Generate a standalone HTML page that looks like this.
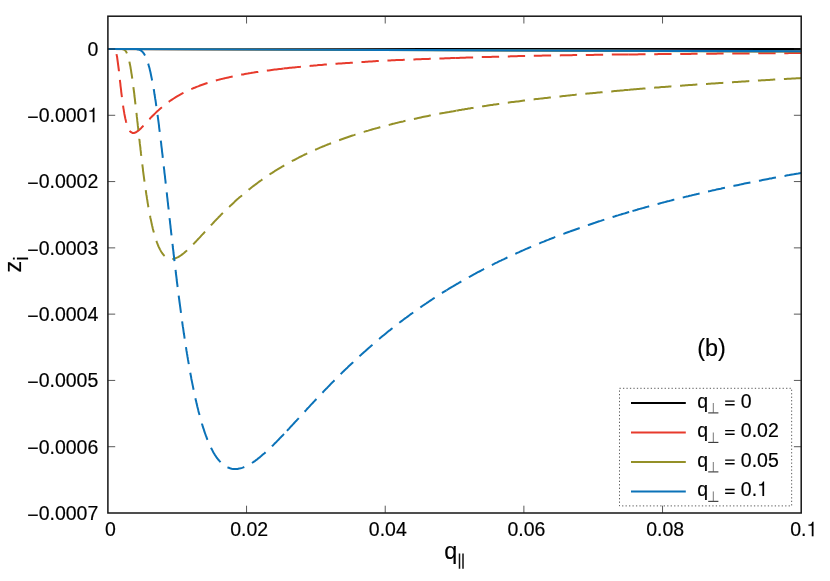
<!DOCTYPE html>
<html><head><meta charset="utf-8"><title>plot</title>
<style>
html,body{margin:0;padding:0;background:#fff;}
svg{display:block;}
text{font-family:"Liberation Sans",sans-serif;fill:#000;stroke:#000;stroke-width:0.18px;}
.gl{fill:#000;stroke:#000;stroke-width:3;}
</style></head>
<body>
<svg width="830" height="581" viewBox="0 0 830 581" style="will-change:transform">
<defs><clipPath id="pc"><rect x="107.9" y="16.2" width="693.30" height="496.80"/></clipPath></defs>
<rect width="830" height="581" fill="#fff"/>
<g fill="none" stroke-width="2.0" stroke-linecap="butt" stroke-linejoin="round" clip-path="url(#pc)">
<path d="M107.90 49.00 L801.20 49.10" stroke="#000" stroke-width="2.15"/>
<path d="M107.90 49.00 L801.20 51.20" stroke="#e73a2c" stroke-width="2.15"/>
<path d="M116.5 54.1 116.8 55.6 117.1 57.0 117.3 58.5 117.5 60.0 117.7 61.5 117.9 63.0 118.1 64.5 118.3 66.0 118.5 67.5 118.7 69.0 118.9 70.5 119.0 72.0 119.2 73.5 119.4 75.1 119.5 76.6 119.7 78.1 119.9 79.6 120.0 81.1 120.2 82.6 120.4 84.1 120.5 85.6 120.7 87.1 120.9 88.6 121.1 90.1 121.2 91.6 121.4 93.1 121.6 94.6 121.8 96.1 122.0 97.6 122.2 99.1 122.4 100.6 122.6 102.1 122.8 103.6 123.0 105.1 123.2 106.6 123.4 108.1 123.7 109.6 123.9 111.1 124.2 112.6 124.4 114.0 124.7 115.5 125.0 117.0 125.3 118.5 125.7 120.0 126.0 121.4 126.4 122.9 126.8 124.4 127.3 125.8 127.8 127.2 128.4 128.6 129.2 129.9 130.0 131.2 131.1 132.2 132.4 132.9 133.9 133.0 135.4 132.5 136.7 131.8 137.9 130.9 139.1 129.9 140.2 128.9 141.3 127.9 142.4 126.8 143.4 125.7 144.4 124.6 145.5 123.5 146.5 122.4 147.5 121.2 148.5 120.1 149.6 119.0 150.6 117.9 151.7 116.8 152.7 115.8 153.8 114.7 154.9 113.6 155.9 112.6 157.0 111.5 158.2 110.5 159.3 109.5 160.4 108.5 161.6 107.5 162.7 106.5 163.9 105.6 165.1 104.6 166.3 103.7 167.5 102.8 168.7 101.9 169.9 101.0 171.2 100.1 172.4 99.3 173.7 98.5 175.0 97.7 176.2 96.9 177.5 96.1 178.9 95.3 180.2 94.6 181.5 93.9 182.8 93.2 184.2 92.5 185.5 91.8 186.9 91.1 188.3 90.5 189.6 89.8 191.0 89.2 192.4 88.6 193.8 88.0 195.2 87.5 196.6 86.9 198.0 86.4 199.4 85.8 200.8 85.3 202.3 84.8 203.7 84.3 205.1 83.8 206.6 83.3 208.0 82.9 209.5 82.4 210.9 82.0 212.4 81.5 213.8 81.1 215.3 80.7 216.7 80.3 218.2 79.9 219.6 79.5 221.1 79.1 222.6 78.8 224.0 78.4 225.5 78.1 227.0 77.7 228.5 77.4 229.9 77.1 231.4 76.7 232.9 76.4 234.4 76.1 235.9 75.8 237.3 75.5 238.8 75.2 240.3 74.9 241.8 74.6 243.3 74.4 244.8 74.1 246.3 73.8 247.8 73.6 249.2 73.3 250.7 73.1 252.2 72.8 253.7 72.6 255.2 72.3 256.7 72.1 258.2 71.9 259.7 71.6 261.2 71.4 262.7 71.2 264.2 71.0 265.7 70.8 267.2 70.6 268.7 70.4 270.2 70.2 271.7 70.0 273.2 69.8 274.7 69.6 276.2 69.4 277.7 69.2 279.2 69.0 280.7 68.9 282.2 68.7 283.7 68.5" stroke="#e73a2c" stroke-dasharray="17.35 8.67"/>
<path d="M283.7 68.5 285.2 68.3 286.7 68.2 288.3 68.0 289.8 67.8 291.3 67.7 292.8 67.5 294.3 67.4 295.8 67.2 297.4 67.1 298.9 66.9 300.4 66.8 301.9 66.6 303.4 66.5 305.0 66.3 306.5 66.2 308.0 66.1 309.5 65.9 311.0 65.8 312.6 65.7 314.1 65.5 315.6 65.4 317.1 65.3 318.6 65.1 320.2 65.0 321.7 64.9 323.2 64.7 324.7 64.6 326.2 64.5 327.8 64.4 329.3 64.3 330.8 64.1 332.3 64.0 333.9 63.9 335.4 63.8 336.9 63.7 338.4 63.6 339.9 63.5 341.5 63.4 343.0 63.3 344.5 63.2 346.0 63.1 347.6 63.0 349.1 62.9 350.6 62.8 352.1 62.7 353.6 62.6 355.2 62.4 356.7 62.3 358.2 62.2 359.7 62.1 361.3 62.0 362.8 62.0 364.3 61.9 365.8 61.8 367.4 61.7 368.9 61.6 370.4 61.5 371.9 61.4 373.5 61.3 375.0 61.2 376.5 61.1 378.0 61.0 379.5 60.9 381.1 60.9 382.6 60.8 384.1 60.7 385.6 60.6 387.2 60.5 388.7 60.5 390.2 60.4 391.7 60.3 393.3 60.3 394.8 60.2 396.3 60.1 397.8 60.1 399.4 60.0 400.9 59.9 402.4 59.9 403.9 59.8 405.5 59.7 407.0 59.7 408.5 59.6 410.0 59.6 411.6 59.5 413.1 59.4 414.6 59.4 416.1 59.3 417.7 59.3 419.2 59.2 420.7 59.2 422.2 59.1 423.8 59.1 425.3 59.0 426.8 58.9 428.3 58.9 429.9 58.8 431.4 58.8 432.9 58.7 434.4 58.7 436.0 58.6 437.5 58.6 439.0 58.5 440.5 58.5 442.1 58.4 443.6 58.4 445.1 58.3 446.6 58.3 448.2 58.2 449.7 58.2 451.2 58.1 452.7 58.1 454.3 58.0 455.8 58.0" stroke="#e73a2c" stroke-dasharray="17.35 8.67"/>
<path d="M455.8 58.0 457.3 57.9 458.9 57.9 460.4 57.8 461.9 57.8 463.4 57.7 465.0 57.7 466.5 57.6 468.0 57.6 469.5 57.5 471.1 57.5 472.6 57.4 474.1 57.4 475.6 57.3 477.2 57.3 478.7 57.2 480.2 57.2 481.7 57.1 483.3 57.1 484.8 57.1 486.3 57.0 487.8 57.0 489.4 56.9 490.9 56.9 492.4 56.8 493.9 56.8 495.5 56.7 497.0 56.7 498.5 56.7 500.0 56.6 501.6 56.6 503.1 56.5 504.6 56.5 506.1 56.4 507.7 56.4 509.2 56.4 510.7 56.3 512.2 56.3 513.8 56.2 515.3 56.2 516.8 56.2 518.3 56.1 519.9 56.1 521.4 56.1 522.9 56.0 524.4 56.0 526.0 56.0 527.5 55.9 529.0 55.9 530.5 55.9 532.1 55.8 533.6 55.8 535.1 55.8 536.6 55.8 538.2 55.7 539.7 55.7 541.2 55.7 542.8 55.6 544.3 55.6 545.8 55.6 547.3 55.6 548.9 55.5 550.4 55.5 551.9 55.5 553.4 55.5 555.0 55.4 556.5 55.4 558.0 55.4 559.5 55.4 561.1 55.3 562.6 55.3 564.1 55.3 565.6 55.3 567.2 55.2 568.7 55.2 570.2 55.2 571.7 55.2 573.3 55.1 574.8 55.1 576.3 55.1 577.8 55.1 579.4 55.1 580.9 55.0 582.4 55.0 583.9 55.0 585.5 55.0 587.0 54.9 588.5 54.9 590.1 54.9 591.6 54.9 593.1 54.9 594.6 54.8 596.2 54.8 597.7 54.8 599.2 54.8 600.7 54.8 602.3 54.7 603.8 54.7 605.3 54.7 606.8 54.7 608.4 54.7 609.9 54.7 611.4 54.6 612.9 54.6 614.5 54.6 616.0 54.6 617.5 54.6 619.0 54.6 620.6 54.5 622.1 54.5 623.6 54.5 625.1 54.5 626.7 54.5 628.2 54.5" stroke="#e73a2c" stroke-dasharray="17.35 8.67"/>
<path d="M628.2 54.5 629.7 54.4 631.2 54.4 632.8 54.4 634.3 54.4 635.8 54.4 637.3 54.4 638.8 54.3 640.3 54.3 641.9 54.3 643.4 54.3 644.9 54.3 646.4 54.3 647.9 54.2 649.4 54.2 651.0 54.2 652.5 54.2 654.0 54.2 655.5 54.2 657.0 54.2 658.6 54.1 660.1 54.1 661.6 54.1 663.1 54.1 664.6 54.1 666.1 54.1 667.7 54.1 669.2 54.0 670.7 54.0 672.2 54.0 673.7 54.0 675.2 54.0 676.8 54.0 678.3 54.0 679.8 54.0 681.3 53.9 682.8 53.9 684.3 53.9 685.9 53.9 687.4 53.9 688.9 53.9 690.4 53.9 691.9 53.8 693.5 53.8 695.0 53.8 696.5 53.8 698.0 53.8 699.5 53.8 701.0 53.8 702.6 53.8 704.1 53.7 705.6 53.7 707.1 53.7 708.6 53.7 710.1 53.7 711.7 53.7 713.2 53.7 714.7 53.7 716.2 53.7 717.7 53.6 719.3 53.6 720.8 53.6 722.3 53.6 723.8 53.6 725.3 53.6 726.8 53.6 728.4 53.6 729.9 53.5 731.4 53.5 732.9 53.5 734.4 53.5 735.9 53.5 737.5 53.5 739.0 53.5 740.5 53.5 742.0 53.5 743.5 53.4 745.1 53.4 746.6 53.4 748.1 53.4 749.6 53.4 751.1 53.4 752.6 53.4 754.2 53.4 755.7 53.4 757.2 53.4 758.7 53.3 760.2 53.3 761.7 53.3 763.3 53.3 764.8 53.3 766.3 53.3 767.8 53.3 769.3 53.3 770.8 53.3 772.4 53.3 773.9 53.2 775.4 53.2 776.9 53.2 778.4 53.2 780.0 53.2 781.5 53.2 783.0 53.2 784.5 53.2 786.0 53.2 787.5 53.2 789.1 53.1 790.6 53.1 792.1 53.1 793.6 53.1 795.1 53.1 796.6 53.1 798.2 53.1 799.7 53.1 801.2 53.1" stroke="#e73a2c" stroke-dasharray="17.35 8.67"/>
<path d="M107.90 49.00 L801.20 51.50" stroke="#949028" stroke-width="2.15"/>
<path d="M111.6 49.0 113.1 49.0 114.6 49.0 116.1 49.0 117.6 49.0 119.1 49.0 120.6 49.0 122.1 49.1 123.6 49.4 124.9 50.2 125.9 51.3 126.6 52.6 127.2 54.0 127.7 55.4 128.2 56.8 128.6 58.3 129.0 59.7 129.3 61.2 129.6 62.7 129.9 64.2 130.2 65.6 130.5 67.1 130.7 68.6 131.0 70.1 131.2 71.6 131.4 73.1 131.7 74.6 131.9 76.1 132.1 77.5 132.3 79.0 132.5 80.5 132.7 82.0 132.9 83.5 133.1 85.0 133.3 86.5 133.5 88.0 133.7 89.5 133.9 91.0 134.1 92.5 134.3 94.0 134.4 95.5 134.6 97.0 134.8 98.5 135.0 100.0 135.1 101.5 135.3 103.0 135.5 104.5 135.7 105.9 135.8 107.4 136.0 108.9 136.2 110.4 136.3 111.9 136.5 113.4 136.7 114.9 136.8 116.4 137.0 117.9 137.2 119.4 137.3 120.9 137.5 122.4 137.7 123.9 137.8 125.4 138.0 126.9 138.2 128.4 138.3 129.9 138.5 131.4 138.7 132.9 138.8 134.4 139.0 135.9 139.2 137.4 139.3 138.9 139.5 140.4 139.7 141.9 139.8 143.4 140.0 144.9 140.2 146.4 140.4 147.9 140.5 149.4 140.7 150.9 140.9 152.4 141.0 153.9 141.2 155.4 141.4 156.9 141.6 158.3 141.8 159.8 141.9 161.3 142.1 162.8 142.3 164.3 142.5 165.8 142.7 167.3 142.9 168.8 143.0 170.3 143.2 171.8 143.4 173.3 143.6 174.8 143.8 176.3 144.0 177.8 144.2 179.3 144.4 180.8 144.6 182.3 144.8 183.8 145.0 185.2 145.2 186.7 145.5 188.2 145.7 189.7 145.9 191.2 146.1 192.7 146.3 194.2 146.6 195.7 146.8 197.2 147.0 198.7 147.3 200.1 147.5 201.6 147.7 203.1 148.0 204.6 148.2 206.1 148.5 207.6 148.8 209.1 149.0 210.5 149.3 212.0 149.6 213.5 149.9 215.0 150.2 216.5 150.4 217.9 150.8 219.4 151.1 220.9 151.4 222.4 151.7 223.8 152.0 225.3 152.4 226.8 152.7 228.2 153.1 229.7 153.5 231.2 153.9 232.6 154.3 234.1 154.7 235.5 155.1 237.0 155.6 238.4 156.0 239.8 156.5 241.3 157.0 242.7 157.6 244.1 158.1 245.5 158.7 246.9 159.4 248.2 160.1 249.6 160.8 250.9 161.6 252.2 162.4 253.4 163.3 254.6 164.4 255.7 165.5 256.7 166.7 257.6 168.0 258.3 169.5 258.8 170.9 259.0 172.4 259.0 173.9 258.7 175.4 258.3 176.8 257.7 178.1 257.1 179.4 256.3 180.7 255.5 181.9 254.6 183.1 253.7 184.3 252.8 185.4 251.8 186.6 250.8 187.7 249.8 188.8 248.7 189.9 247.7 190.9 246.6 192.0 245.6 193.1 244.5 194.1 243.4 195.1 242.3 196.2 241.2 197.2 240.1 198.2 239.0 199.3 237.9 200.3 236.8 201.3 235.7 202.3 234.6 203.4 233.5 204.4 232.4 205.4 231.3 206.4 230.2 207.4 229.1 208.5 228.0 209.5 226.9 210.5 225.8 211.5 224.7 212.6 223.6 213.6 222.5 214.6 221.4 215.7 220.3 216.7 219.2 217.8 218.1 218.8 217.0 219.9 216.0 220.9 214.9 222.0 213.8 223.1 212.8 224.1 211.7 225.2 210.6 226.3 209.6 227.4 208.5 228.5 207.5 229.6 206.5 230.7 205.4 231.8 204.4 232.9 203.4 234.0 202.4 235.1 201.3 236.2 200.3 237.3 199.3 238.5 198.3 239.6 197.3 240.7 196.4 241.9 195.4 243.0 194.4 244.2 193.4 245.3 192.5 246.5 191.5 247.7 190.6 248.8 189.6 250.0 188.7 251.2 187.7 252.4 186.8 253.6 185.9 254.8 185.0 256.0 184.1 257.2 183.2 258.4 182.3 259.6 181.4 260.9 180.5 262.1 179.6 263.3 178.8 264.5 177.9 265.8 177.0 267.0 176.2 268.3 175.4 269.5 174.5 270.8 173.7 272.1 172.9 273.3 172.1 274.6 171.2 275.9 170.4 277.1 169.7 278.4 168.9 279.7 168.1 281.0 167.3 282.3 166.5 283.6 165.8 284.9 165.0 286.2 164.3 287.5 163.5 288.9 162.8 290.2 162.1 291.5 161.4 292.8 160.7 294.2 160.0 295.5 159.3 296.8 158.6 298.2 157.9 299.5 157.2 300.9 156.5 302.2 155.8 303.6 155.2 304.9 154.5 306.3 153.9 307.6 153.2 309.0 152.6 310.4 152.0 311.7 151.3 313.1 150.7 314.5 150.1 315.9 149.5 317.3 148.9 318.6 148.3 320.0 147.7 321.4 147.1 322.8 146.5 324.2 146.0 325.6 145.4 327.0 144.8 328.4 144.3 329.8 143.7 331.2 143.2 332.6 142.6 334.0 142.1 335.4 141.5 336.8 141.0 338.2 140.5 339.7 140.0 341.1 139.5 342.5 139.0 343.9 138.5 345.3 138.0 346.8 137.5 348.2 137.0 349.6 136.5 351.0 136.0 352.5 135.5 353.9 135.1 355.3 134.6 356.8 134.1 358.2 133.7 359.6 133.2 361.1 132.8 362.5 132.3 363.9 131.9 365.4 131.4 366.8 131.0 368.3 130.6 369.7 130.1 371.2 129.7 372.6 129.3 374.1 128.9 375.5 128.5 377.0 128.1 378.4 127.7 379.9 127.3 381.3 126.9 382.8 126.5 384.2 126.1 385.7 125.7 387.1 125.3 388.6 125.0 390.1 124.6 391.5 124.2 393.0 123.8 394.4 123.5 395.9 123.1 397.4 122.8 398.8 122.4 400.3 122.0 401.8 121.7 403.2 121.4 404.7 121.0 406.2 120.7 407.6 120.3 409.1 120.0 410.6 119.7 412.0 119.3 413.5 119.0 415.0 118.7 416.5 118.4 417.9 118.1 419.4 117.7 420.9 117.4 422.4 117.1 423.8 116.8 425.3 116.5 426.8 116.2 428.3 115.9 429.7 115.6 431.2 115.3 432.7 115.0 434.2 114.7 435.7 114.4 437.1 114.2 438.6 113.9 440.1 113.6 441.6 113.3 443.1 113.0 444.5 112.8 446.0 112.5 447.5 112.2 449.0 112.0 450.5 111.7 451.9 111.4 453.4 111.2 454.9 110.9 456.4 110.6" stroke="#949028" stroke-dasharray="17.30 8.64"/>
<path d="M456.4 110.6 457.9 110.4 459.4 110.1 460.9 109.9 462.4 109.6 463.9 109.4 465.4 109.1 466.9 108.9 468.4 108.6 469.9 108.4 471.4 108.1 472.9 107.9 474.4 107.6 475.9 107.4 477.4 107.1 478.9 106.9 480.4 106.7 481.9 106.4 483.4 106.2 484.9 106.0 486.4 105.8 487.9 105.5 489.4 105.3 490.9 105.1 492.4 104.9 493.9 104.6 495.4 104.4 496.9 104.2 498.4 104.0 499.9 103.8 501.4 103.6 502.9 103.4 504.4 103.2 505.9 103.0 507.4 102.7 508.9 102.5 510.4 102.3 511.9 102.1 513.4 101.9 514.9 101.7 516.4 101.5 518.0 101.4 519.5 101.2 521.0 101.0 522.5 100.8 524.0 100.6 525.5 100.4 527.0 100.2 528.5 100.0 530.0 99.8 531.5 99.6 533.0 99.5 534.5 99.3 536.0 99.1 537.5 98.9 539.1 98.7 540.6 98.6 542.1 98.4 543.6 98.2 545.1 98.0 546.6 97.9 548.1 97.7 549.6 97.5 551.1 97.4 552.6 97.2 554.1 97.0 555.6 96.9 557.2 96.7 558.7 96.5 560.2 96.4 561.7 96.2 563.2 96.0 564.7 95.9 566.2 95.7 567.7 95.6 569.2 95.4 570.7 95.2 572.3 95.1 573.8 94.9 575.3 94.8 576.8 94.6 578.3 94.5 579.8 94.3 581.3 94.2 582.8 94.0 584.3 93.9 585.9 93.7 587.4 93.6 588.9 93.5 590.4 93.3 591.9 93.2 593.4 93.0 594.9 92.9 596.4 92.7 598.0 92.6 599.5 92.5 601.0 92.3 602.5 92.2 604.0 92.0 605.5 91.9 607.0 91.8 608.5 91.6 610.1 91.5 611.6 91.4 613.1 91.2 614.6 91.1 616.1 91.0 617.6 90.8 619.1 90.7 620.6 90.5 622.1 90.4 623.7 90.3 625.2 90.1 626.7 90.0 628.2 89.9" stroke="#949028" stroke-dasharray="17.35 8.67"/>
<path d="M628.2 89.9 629.7 89.7 631.2 89.6 632.7 89.5 634.3 89.3 635.8 89.2 637.3 89.1 638.8 89.0 640.3 88.8 641.8 88.7 643.4 88.6 644.9 88.5 646.4 88.3 647.9 88.2 649.4 88.1 650.9 88.0 652.5 87.8 654.0 87.7 655.5 87.6 657.0 87.5 658.5 87.4 660.0 87.2 661.6 87.1 663.1 87.0 664.6 86.9 666.1 86.8 667.6 86.7 669.1 86.5 670.7 86.4 672.2 86.3 673.7 86.2 675.2 86.1 676.7 86.0 678.2 85.9 679.8 85.8 681.3 85.7 682.8 85.5 684.3 85.4 685.8 85.3 687.3 85.2 688.9 85.1 690.4 85.0 691.9 84.9 693.4 84.8 694.9 84.7 696.4 84.6 698.0 84.5 699.5 84.4 701.0 84.3 702.5 84.2 704.0 84.1 705.6 84.0 707.1 83.9 708.6 83.8 710.1 83.7 711.6 83.6 713.1 83.5 714.7 83.4 716.2 83.3 717.7 83.2 719.2 83.1 720.7 83.0 722.2 82.9 723.8 82.8 725.3 82.7 726.8 82.6 728.3 82.5 729.8 82.4 731.4 82.3 732.9 82.2 734.4 82.1 735.9 82.0 737.4 81.9 738.9 81.8 740.5 81.7 742.0 81.6 743.5 81.5 745.0 81.4 746.5 81.3 748.1 81.2 749.6 81.1 751.1 81.0 752.6 80.9 754.1 80.8 755.6 80.7 757.2 80.6 758.7 80.5 760.2 80.4 761.7 80.3 763.2 80.3 764.8 80.2 766.3 80.1 767.8 80.0 769.3 79.9 770.8 79.8 772.3 79.7 773.9 79.6 775.4 79.5 776.9 79.4 778.4 79.3 779.9 79.3 781.5 79.2 783.0 79.1 784.5 79.0 786.0 78.9 787.5 78.8 789.0 78.7 790.6 78.7 792.1 78.6 793.6 78.5 795.1 78.4 796.6 78.3 798.2 78.2 799.7 78.2 801.2 78.1" stroke="#949028" stroke-dasharray="17.35 8.67"/>
<path d="M107.90 49.00 L801.20 51.30" stroke="#0b72b8" stroke-width="2.15"/>
<path d="M130.4 49.0 131.9 49.0 133.4 49.0 134.9 49.0 136.4 49.1 137.9 49.4 139.4 49.8 140.7 50.4 141.9 51.3 143.0 52.4 143.9 53.6 144.7 54.9 145.4 56.2 146.0 57.6 146.6 59.0 147.1 60.4 147.6 61.8 148.1 63.3 148.5 64.7 148.9 66.2 149.3 67.6 149.7 69.1 150.0 70.6 150.4 72.0 150.7 73.5 151.0 75.0 151.3 76.5 151.6 77.9 151.9 79.4 152.2 80.9 152.5 82.4 152.8 83.9 153.0 85.3 153.3 86.8 153.6 88.3 153.8 89.8 154.1 91.3 154.3 92.8 154.5 94.3 154.8 95.8 155.0 97.3 155.2 98.7 155.5 100.2 155.7 101.7 155.9 103.2 156.1 104.7 156.3 106.2 156.6 107.7 156.8 109.2 157.0 110.7 157.2 112.2 157.4 113.7 157.6 115.2 157.8 116.7 158.0 118.2 158.2 119.7 158.4 121.2 158.6 122.6 158.8 124.1 159.0 125.6 159.1 127.1 159.3 128.6 159.5 130.1 159.7 131.6 159.9 133.1 160.1 134.6 160.3 136.1 160.4 137.6 160.6 139.1 160.8 140.6 161.0 142.1 161.2 143.6 161.3 145.1 161.5 146.6 161.7 148.1 161.9 149.6 162.0 151.1 162.2 152.6 162.4 154.1 162.6 155.6 162.7 157.1 162.9 158.6 163.1 160.1 163.3 161.6 163.4 163.1 163.6 164.6 163.8 166.1 163.9 167.6 164.1 169.1 164.3 170.6 164.4 172.1 164.6 173.6 164.8 175.1 165.0 176.6 165.1 178.1 165.3 179.6 165.5 181.1 165.6 182.6 165.8 184.1 166.0 185.6 166.1 187.1 166.3 188.6 166.5 190.1 166.6 191.6 166.8 193.1 167.0 194.6 167.1 196.1 167.3 197.6 167.5 199.1 167.6 200.6 167.8 202.1 168.0 203.6 168.1 205.1 168.3 206.6 168.5 208.1 168.6 209.6 168.8 211.1 169.0 212.6 169.1 214.1 169.3 215.6 169.5 217.1 169.6 218.6 169.8 220.1 170.0 221.6 170.1 223.1 170.3 224.6 170.5 226.1 170.6 227.6 170.8 229.1 171.0 230.6 171.1 232.1 171.3 233.6 171.5 235.1 171.6 236.6 171.8 238.1 172.0 239.6 172.2 241.1 172.3 242.5 172.5 244.0 172.7 245.5 172.8 247.0 173.0 248.5 173.2 250.0 173.4 251.5 173.5 253.0 173.7 254.5 173.9 256.0 174.1 257.5 174.2 259.0 174.4 260.5 174.6 262.0 174.8 263.5 174.9 265.0 175.1 266.5 175.3 268.0 175.5 269.5 175.7 271.0 175.8 272.5 176.0 274.0 176.2 275.5 176.4 277.0 176.6 278.5 176.7 280.0 176.9 281.5 177.1 283.0 177.3 284.5 177.5 286.0 177.7 287.5 177.9 289.0 178.0 290.5 178.2 292.0 178.4 293.5 178.6 295.0 178.8 296.5 179.0 298.0 179.2 299.5 179.4 301.0 179.6 302.5 179.8 304.0 180.0 305.4 180.2 306.9 180.4 308.4 180.6 309.9 180.8 311.4 181.0 312.9 181.2 314.4 181.4 315.9 181.6 317.4 181.8 318.9 182.0 320.4 182.2 321.9 182.4 323.4 182.6 324.9 182.8 326.4 183.1 327.9 183.3 329.4 183.5 330.8 183.7 332.3 183.9 333.8 184.2 335.3 184.4 336.8 184.6 338.3 184.8 339.8 185.0 341.3 185.3 342.8 185.5 344.3 185.7 345.8 186.0 347.3 186.2 348.7 186.4 350.2 186.7 351.7 186.9 353.2 187.2 354.7 187.4 356.2 187.7 357.7 187.9 359.2 188.2 360.7 188.4 362.1 188.7 363.6 188.9 365.1 189.2 366.6 189.4 368.1 189.7 369.6 190.0 371.1 190.2 372.5 190.5 374.0 190.8 375.5 191.1 377.0 191.3 378.5 191.6 380.0 191.9 381.4 192.2 382.9 192.5 384.4 192.8 385.9 193.1 387.4 193.4 388.8 193.7 390.3 194.0 391.8 194.3 393.3 194.6 394.7 195.0 396.2 195.3 397.7 195.6 399.2 195.9 400.6 196.3 402.1 196.6 403.6 197.0 405.0 197.3 406.5 197.7 408.0 198.1 409.4 198.4 410.9 198.8 412.4 199.2 413.8 199.6 415.3 200.0 416.7 200.4 418.2 200.8 419.6 201.2 421.1 201.6 422.5 202.0 424.0 202.5 425.4 202.9 426.9 203.4 428.3 203.9 429.7 204.3 431.2 204.8 432.6 205.3 434.0 205.8 435.4 206.4 436.9 206.9 438.3 207.4 439.7 208.0 441.1 208.6 442.5 209.2 443.8 209.8 445.2 210.4 446.6 211.1 448.0 211.8 449.3 212.5 450.6 213.2 452.0 213.9 453.3 214.7 454.6 215.5 455.8 216.4 457.1 217.3 458.3 218.2 459.5 219.2 460.7 220.2 461.8 221.2 462.8 222.3 463.9 223.5 464.8 224.7 465.7 226.0 466.5 227.3 467.2 228.7 467.8 230.1 468.3 231.6 468.7 233.1 468.9 234.6 469.0 236.1 469.0 237.6 468.9 239.1 468.6 240.6 468.3 242.0 467.9 243.4 467.4 244.8 466.8 246.2 466.2 247.6 465.5 248.9 464.8 250.2 464.1 251.5 463.3 252.7 462.5 254.0 461.6 255.2 460.8 256.4 459.9 257.6 458.9 258.8 458.0 260.0 457.1 261.2 456.1 262.3 455.1 263.5 454.1 264.6 453.2 265.7 452.1 266.8 451.1 267.9 450.1 269.0 449.1 270.1 448.0 271.2 447.0 272.3 445.9 273.4 444.9 274.4 443.8 275.5 442.7 276.6 441.7 277.6 440.6 278.7 439.5 279.7 438.4 280.8 437.3 281.8 436.2 282.9 435.2 283.9 434.1 284.9 433.0 286.0 431.9 287.0 430.8" stroke="#0b72b8" stroke-dasharray="17.35 8.67"/>
<path d="M287.0 430.8 288.0 429.7 289.1 428.6 290.1 427.4 291.1 426.3 292.2 425.2 293.2 424.1 294.2 423.0 295.2 421.9 296.3 420.8 297.3 419.7 298.3 418.6 299.3 417.4 300.4 416.3 301.4 415.2 302.4 414.1 303.4 413.0 304.4 411.9 305.5 410.8 306.5 409.7 307.5 408.5 308.6 407.4 309.6 406.3 310.6 405.2 311.6 404.1 312.7 403.0 313.7 401.9 314.7 400.8 315.8 399.7 316.8 398.6 317.8 397.5 318.9 396.4 319.9 395.3 321.0 394.2 322.0 393.1 323.1 392.0 324.1 390.9 325.2 389.8 326.2 388.7 327.3 387.7 328.3 386.6 329.4 385.5 330.4 384.4 331.5 383.3 332.5 382.2 333.6 381.2 334.7 380.1 335.7 379.0 336.8 378.0 337.9 376.9 338.9 375.8 340.0 374.8 341.1 373.7 342.2 372.6 343.3 371.6 344.3 370.5 345.4 369.5 346.5 368.4 347.6 367.4 348.7 366.3 349.8 365.3 350.9 364.2 352.0 363.2 353.1 362.2 354.2 361.1 355.3 360.1 356.4 359.1 357.5 358.0 358.6 357.0 359.7 356.0 360.9 355.0 362.0 353.9 363.1 352.9 364.2 351.9 365.4 350.9 366.5 349.9 367.6 348.9 368.7 347.9 369.9 346.9 371.0 345.9 372.2 344.9 373.3 343.9 374.5 342.9 375.6 342.0 376.8 341.0 377.9 340.0 379.1 339.0 380.2 338.1 381.4 337.1 382.6 336.1 383.7 335.2 384.9 334.2 386.1 333.2 387.2 332.3 388.4 331.3 389.6 330.4 390.8 329.4 392.0 328.5 393.1 327.6 394.3 326.6 395.5 325.7 396.7 324.8 397.9 323.8 399.1 322.9 400.3 322.0 401.5 321.1 402.7 320.2 403.9 319.3 405.1 318.4 406.4 317.5 407.6 316.6 408.8 315.7 410.0 314.8 411.2 313.9 412.5 313.0 413.7 312.1 414.9 311.2 416.1 310.3 417.4 309.5 418.6 308.6 419.9 307.7 421.1 306.9 422.3 306.0 423.6 305.2 424.8 304.3 426.1 303.5 427.3 302.6 428.6 301.8 429.9 300.9 431.1 300.1 432.4 299.2 433.6 298.4 434.9 297.6 436.2 296.8 437.4 295.9 438.7 295.1 440.0 294.3 441.3 293.5 442.5 292.7 443.8 291.9 445.1 291.1 446.4 290.3" stroke="#0b72b8" stroke-dasharray="17.35 8.67"/>
<path d="M446.4 290.3 447.7 289.5 449.0 288.7 450.3 287.9 451.6 287.1 452.9 286.4 454.2 285.6 455.5 284.8 456.8 284.0 458.1 283.3 459.4 282.5 460.7 281.8 462.0 281.0 463.3 280.3 464.6 279.5 466.0 278.8 467.3 278.0 468.6 277.3 469.9 276.6 471.3 275.8 472.6 275.1 473.9 274.4 475.3 273.7 476.6 272.9 477.9 272.2 479.3 271.5 480.6 270.8 481.9 270.1 483.3 269.4 484.6 268.7 486.0 268.0 487.3 267.3 488.7 266.6 490.0 265.9 491.4 265.3 492.7 264.6 494.1 263.9 495.4 263.2 496.8 262.6 498.1 261.9 499.5 261.2 500.9 260.6 502.2 259.9 503.6 259.3 505.0 258.6 506.3 258.0 507.7 257.3 509.1 256.7 510.4 256.0 511.8 255.4 513.2 254.8 514.6 254.1 516.0 253.5 517.3 252.9 518.7 252.3 520.1 251.6 521.5 251.0 522.9 250.4 524.2 249.8 525.6 249.2 527.0 248.6 528.4 248.0 529.8 247.4 531.2 246.8 532.6 246.2 534.0 245.6 535.4 245.0 536.8 244.5 538.2 243.9 539.6 243.3 541.0 242.7 542.4 242.1 543.8 241.6 545.2 241.0 546.6 240.4 548.0 239.9 549.4 239.3 550.8 238.8 552.2 238.2 553.6 237.7 555.0 237.1 556.5 236.6 557.9 236.0 559.3 235.5 560.7 234.9 562.1 234.4 563.5 233.9 564.9 233.3 566.4 232.8 567.8 232.3 569.2 231.8 570.6 231.2 572.0 230.7 573.5 230.2 574.9 229.7 576.3 229.2 577.7 228.7 579.2 228.2 580.6 227.7 582.0 227.2 583.5 226.7 584.9 226.2 586.3 225.7 587.8 225.2 589.2 224.7 590.6 224.2 592.1 223.7 593.5 223.2 594.9 222.8 596.4 222.3 597.8 221.8 599.2 221.3 600.7 220.9 602.1 220.4 603.6 219.9 605.0 219.5 606.4 219.0 607.9 218.5 609.3 218.1 610.8 217.6 612.2 217.2 613.7 216.7 615.1 216.3 616.5 215.8 618.0 215.4 619.4 214.9 620.9 214.5 622.3 214.0 623.8 213.6 625.2 213.2 626.7 212.7 628.1 212.3 629.6 211.9 631.0 211.4 632.5 211.0" stroke="#0b72b8" stroke-dasharray="17.35 8.67"/>
<path d="M632.5 211.0 634.0 210.6 635.4 210.2 636.9 209.8 638.3 209.3 639.8 208.9 641.3 208.5 642.7 208.1 644.2 207.7 645.6 207.3 647.1 206.9 648.6 206.5 650.0 206.1 651.5 205.6 653.0 205.2 654.4 204.9 655.9 204.5 657.3 204.1 658.8 203.7 660.3 203.3 661.7 202.9 663.2 202.5 664.7 202.1 666.1 201.7 667.6 201.3 669.1 201.0 670.6 200.6 672.0 200.2 673.5 199.8 675.0 199.5 676.4 199.1 677.9 198.7 679.4 198.4 680.9 198.0 682.3 197.6 683.8 197.3 685.3 196.9 686.8 196.5 688.2 196.2 689.7 195.8 691.2 195.5 692.7 195.1 694.1 194.8 695.6 194.4 697.1 194.1 698.6 193.7 700.0 193.4 701.5 193.0 703.0 192.7 704.5 192.3 706.0 192.0 707.4 191.6 708.9 191.3 710.4 191.0 711.9 190.6 713.4 190.3 714.8 190.0 716.3 189.6 717.8 189.3 719.3 189.0 720.8 188.7 722.2 188.3 723.7 188.0 725.2 187.7 726.7 187.4 728.2 187.1 729.7 186.7 731.2 186.4 732.6 186.1 734.1 185.8 735.6 185.5 737.1 185.2 738.6 184.9 740.1 184.6 741.5 184.2 743.0 183.9 744.5 183.6 746.0 183.3 747.5 183.0 749.0 182.7 750.5 182.4 752.0 182.1 753.5 181.8 754.9 181.5 756.4 181.2 757.9 181.0 759.4 180.7 760.9 180.4 762.4 180.1 763.9 179.8 765.4 179.5 766.9 179.2 768.3 178.9 769.8 178.6 771.3 178.4 772.8 178.1 774.3 177.8 775.8 177.5 777.3 177.2 778.8 177.0 780.3 176.7 781.8 176.4 783.3 176.1 784.8 175.9 786.3 175.6 787.7 175.3 789.2 175.1 790.7 174.8 792.2 174.5 793.7 174.3 795.2 174.0 796.7 173.7 798.2 173.5 799.7 173.2 801.2 172.9" stroke="#0b72b8" stroke-dasharray="17.35 8.67"/>
</g>
<rect x="107.90" y="16.20" width="693.30" height="496.80" fill="none" stroke="#141414" stroke-width="1.5"/>
<path d="M246.56 513.00 V505.70 M246.56 16.20 V23.50 M385.22 513.00 V505.70 M385.22 16.20 V23.50 M523.88 513.00 V505.70 M523.88 16.20 V23.50 M662.54 513.00 V505.70 M662.54 16.20 V23.50 M107.90 49.00 H115.20 M801.20 49.00 H793.90 M107.90 115.29 H115.20 M801.20 115.29 H793.90 M107.90 181.57 H115.20 M801.20 181.57 H793.90 M107.90 247.86 H115.20 M801.20 247.86 H793.90 M107.90 314.14 H115.20 M801.20 314.14 H793.90 M107.90 380.43 H115.20 M801.20 380.43 H793.90 M107.90 446.71 H115.20 M801.20 446.71 H793.90" stroke="#222" stroke-width="0.75" fill="none"/>
<text transform="translate(105.08 536.30) scale(0.975 1.035)" font-size="20">0</text>
<text transform="translate(230.19 536.30) scale(0.975 1.035)" font-size="20">0.02</text>
<text transform="translate(368.85 536.30) scale(0.975 1.035)" font-size="20">0.04</text>
<text transform="translate(507.51 536.30) scale(0.975 1.035)" font-size="20">0.06</text>
<text transform="translate(646.17 536.30) scale(0.975 1.035)" font-size="20">0.08</text>
<text transform="translate(790.25 536.30) scale(0.975 1.035)" font-size="20">0.</text>
<path class="gl" transform="translate(806.51 536.30) scale(0.01950 -0.02070)" d="M359 0H271V505H101V568C218 568 273 600 300 703H359Z"/>
<text transform="translate(87.46 55.90) scale(0.975 1.035)" font-size="20">0</text>
<text transform="translate(27.28 123.99) scale(0.975 1.035)" font-size="20">−</text>
<text transform="translate(38.67 122.19) scale(0.975 1.035)" font-size="20">0.000</text>
<path class="gl" transform="translate(87.46 122.19) scale(0.01950 -0.02070)" d="M359 0H271V505H101V568C218 568 273 600 300 703H359Z"/>
<text transform="translate(27.28 190.27) scale(0.975 1.035)" font-size="20">−</text>
<text transform="translate(38.67 188.47) scale(0.975 1.035)" font-size="20">0.0002</text>
<text transform="translate(27.28 256.56) scale(0.975 1.035)" font-size="20">−</text>
<text transform="translate(38.67 254.76) scale(0.975 1.035)" font-size="20">0.0003</text>
<text transform="translate(27.28 322.84) scale(0.975 1.035)" font-size="20">−</text>
<text transform="translate(38.67 321.04) scale(0.975 1.035)" font-size="20">0.0004</text>
<text transform="translate(27.28 389.13) scale(0.975 1.035)" font-size="20">−</text>
<text transform="translate(38.67 387.33) scale(0.975 1.035)" font-size="20">0.0005</text>
<text transform="translate(27.28 455.41) scale(0.975 1.035)" font-size="20">−</text>
<text transform="translate(38.67 453.61) scale(0.975 1.035)" font-size="20">0.0006</text>
<text transform="translate(27.28 521.70) scale(0.975 1.035)" font-size="20">−</text>
<text transform="translate(38.67 519.90) scale(0.975 1.035)" font-size="20">0.0007</text>
<rect x="619.5" y="388.3" width="172.15" height="117.6" fill="none" stroke="#333" stroke-width="0.8" stroke-dasharray="1.3 2.17"/>
<path d="M631 403.00 H685.8" stroke="#000" stroke-width="2.0" fill="none"/>
<text transform="translate(697.30 407.60) scale(0.975 1.035)" font-size="20">q</text>
<path d="M708.2 412.90 H718.4" stroke="#333" stroke-width="1.1" fill="none"/>
<path d="M713.3 403.00 V412.90" stroke="#555" stroke-width="0.8" fill="none"/>
<path d="M725.16 401.10H734.63M725.16 404.70H734.63" stroke="#000" stroke-width="1.45" fill="none"/>
<text transform="translate(740.85 407.60) scale(0.975 1.035)" font-size="20">0</text>
<path d="M631 432.50 H685.8" stroke="#e73a2c" stroke-width="2.0" fill="none"/>
<text transform="translate(697.30 437.10) scale(0.975 1.035)" font-size="20">q</text>
<path d="M708.2 442.40 H718.4" stroke="#333" stroke-width="1.1" fill="none"/>
<path d="M713.3 432.50 V442.40" stroke="#555" stroke-width="0.8" fill="none"/>
<path d="M725.16 430.60H734.63M725.16 434.20H734.63" stroke="#000" stroke-width="1.45" fill="none"/>
<text transform="translate(740.85 437.10) scale(0.975 1.035)" font-size="20">0.02</text>
<path d="M631 462.00 H685.8" stroke="#949028" stroke-width="2.0" fill="none"/>
<text transform="translate(697.30 466.60) scale(0.975 1.035)" font-size="20">q</text>
<path d="M708.2 471.90 H718.4" stroke="#333" stroke-width="1.1" fill="none"/>
<path d="M713.3 462.00 V471.90" stroke="#555" stroke-width="0.8" fill="none"/>
<path d="M725.16 460.10H734.63M725.16 463.70H734.63" stroke="#000" stroke-width="1.45" fill="none"/>
<text transform="translate(740.85 466.60) scale(0.975 1.035)" font-size="20">0.05</text>
<path d="M631 491.45 H685.8" stroke="#0b72b8" stroke-width="2.0" fill="none"/>
<text transform="translate(697.30 496.05) scale(0.975 1.035)" font-size="20">q</text>
<path d="M708.2 501.35 H718.4" stroke="#333" stroke-width="1.1" fill="none"/>
<path d="M713.3 491.45 V501.35" stroke="#555" stroke-width="0.8" fill="none"/>
<path d="M725.16 489.55H734.63M725.16 493.15H734.63" stroke="#000" stroke-width="1.45" fill="none"/>
<text transform="translate(740.85 496.05) scale(0.975 1.035)" font-size="20">0.</text>
<path class="gl" transform="translate(757.11 496.05) scale(0.01950 -0.02070)" d="M359 0H271V505H101V568C218 568 273 600 300 703H359Z"/>
<text transform="translate(697.30 355.80) scale(0.975 1.035)" font-size="24">(b)</text>
<text transform="translate(444.30 559.40) scale(0.975 1.035)" font-size="24">q</text>
<path d="M459.5 553.5 V568.8 M463.0 553.5 V568.8" stroke="#111" stroke-width="1.5" fill="none"/>
<g transform="translate(21.1 272.5) rotate(-90)">
<text transform="translate(0.00 0.00) scale(0.975 1.035)" font-size="24">z</text>
<text transform="translate(11.80 6.60) scale(0.975 1.035)" font-size="19.2">i</text>
</g>
</svg>
</body></html>
